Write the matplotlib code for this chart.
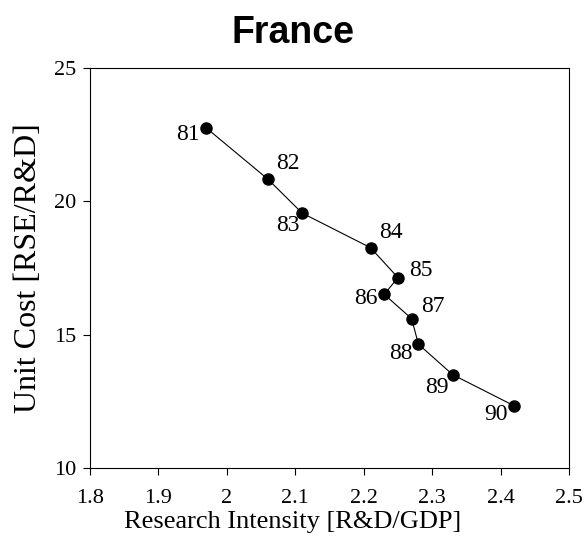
import numpy as np
from matplotlib import pyplot as plt

years = ['81', '82', '83', '84', '85', '86', '87', '88', '89', '90']
intensity = [1.97, 2.06, 2.11, 2.21, 2.25, 2.23, 2.27, 2.28, 2.33, 2.42]
unit_cost = [22.75, 20.83, 19.56, 18.26, 17.14, 16.51, 15.60, 14.64, 13.50, 12.33]
# where each year label sits relative to its dot (points)
label_offsets = [(-5, -5, 'right', 'center'), (6, 11, 'left', 'center'),
                 (-2, -9, 'right', 'center'), (6, 11, 'left', 'center'),
                 (8, 5, 'left', 'center'), (-5, -3, 'right', 'center'),
                 (7, 9, 'left', 'center'), (-4, -7, 'right', 'center'),
                 (-3, -9, 'right', 'center'), (-5, -6, 'right', 'center')]

serif = 'Liberation Serif'

fig = plt.figure(figsize=(5.85, 5.42), dpi=100)
ax = fig.add_axes([90/585, 1-468/542, (569-90)/585, (468-68)/542])
ax.plot(intensity, unit_cost, color='black', linewidth=0.8, marker='o',
        markersize=8, markerfacecolor='black')
for i in range(len(years)):
    dx, dy, ha, va = label_offsets[i]
    ax.annotate(years[i], (intensity[i], unit_cost[i]), xytext=(dx, dy),
                textcoords='offset points', ha=ha, va=va, fontsize=17, family=serif)

ax.set_xlim(1.8, 2.5)
ax.set_ylim(10, 25)
ax.set_xticks(np.arange(1.8, 2.51, 0.1))
ax.set_xticklabels(['1.8', '1.9', '2', '2.1', '2.2', '2.3', '2.4', '2.5'])
ax.set_yticks([10, 15, 20, 25])
ax.tick_params(direction='out', length=5, width=0.8, labelsize=16)
ax.tick_params(axis='x', pad=10)
ax.tick_params(axis='y', pad=5)
for lab in ax.get_xticklabels() + ax.get_yticklabels():
    lab.set_family(serif)
for s in ax.spines.values():
    s.set_linewidth(0.8)
ax.set_xlabel('Research Intensity [R&D/GDP]', family=serif, fontsize=19, va='center')
ax.xaxis.set_label_coords((292.5-90)/479, (468-522)/400)
ax.set_ylabel('Unit Cost [RSE/R&D]', family=serif, fontsize=23, va='center')
ax.yaxis.set_label_coords(-(90-28)/479, (468-268.5)/400)
fig.text(0.5, 1-33/542, 'France', ha='center', va='center', family='Liberation Sans',
         fontweight='bold', fontsize=27)

plt.savefig('out.png')
